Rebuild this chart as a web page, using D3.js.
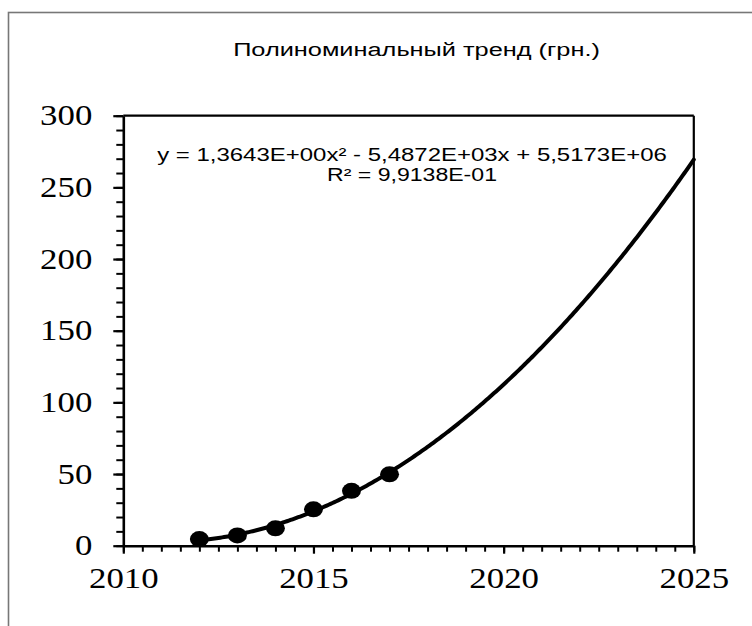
<!DOCTYPE html>
<html>
<head>
<meta charset="utf-8">
<script src="https://cdn.jsdelivr.net/npm/d3@7"></script>
<style>
  html, body { margin: 0; padding: 0; background: #fff; }
  svg { display: block; }
</style>
</head>
<body>
<script>
// ---- data ----
const years = [2012, 2013, 2014, 2015, 2016, 2017];
const values = [4.6, 7.2, 12.1, 25.4, 38.3, 49.8];
const xTickValues = [2010, 2015, 2020, 2025];
const yTickValues = [0, 50, 100, 150, 200, 250, 300];
const titleText = "Полиноминальный тренд (грн.)";
const eqLine1 = "y = 1,3643E+00x² - 5,4872E+03x + 5,5173E+06";
const eqLine2 = "R² = 9,9138E-01";

const W = 752, H = 626;
const SANS = "Liberation Sans, Arial, sans-serif";
const SERIF = "Liberation Serif, Times New Roman, serif";

const svg = d3.select("body").append("svg").attr("width", W).attr("height", H);
svg.append("rect").attr("width", W).attr("height", H).attr("fill", "#fff");

// outer chart frame (extends past the window at right/bottom)
svg.append("rect")
  .attr("x", 8.5).attr("y", 12.5).attr("width", 800).attr("height", 700)
  .attr("fill", "none").attr("stroke", "#777").attr("stroke-width", 1.6);

const x = d3.scaleLinear().domain([2010, 2025]).range([123.3, 693.8]);
const y = d3.scaleLinear().domain([0, 300]).range([545.7, 115.7]);

// quadratic least-squares trend from the data
function quadFit(xs, ys) {
  const n = xs.length, m = d3.mean(xs);
  const u = xs.map(v => v - m);
  const s2 = d3.sum(u, v => v * v), s3 = d3.sum(u, v => v ** 3), s4 = d3.sum(u, v => v ** 4);
  const sy = d3.sum(ys), sxy = d3.sum(u, (v, i) => v * ys[i]), sx2y = d3.sum(u, (v, i) => v * v * ys[i]);
  const A = [[n, 0, s2, sy], [0, s2, s3, sxy], [s2, s3, s4, sx2y]];
  for (let i = 0; i < 3; i++) {
    for (let k = i + 1; k < 3; k++) {
      const f = A[k][i] / A[i][i];
      for (let j = i; j < 4; j++) A[k][j] -= f * A[i][j];
    }
  }
  const c = A[2][3] / A[2][2];
  const b = (A[1][3] - A[1][2] * c) / A[1][1];
  const a = (A[0][3] - A[0][2] * c - A[0][1] * b) / A[0][0];
  return t => a + b * (t - m) + c * (t - m) * (t - m);
}
const trend = quadFit(years, values);

// centred text stretched horizontally to a given width
function stretchedText(parent, txt, cx, cy, size, family, width) {
  const t = parent.append("text")
    .attr("x", 0).attr("y", 0).attr("text-anchor", "middle")
    .style("font-family", family).style("font-size", size + "px")
    .attr("fill", "#000").text(txt);
  const natural = t.node().getComputedTextLength() || width;
  t.attr("transform", `translate(${cx},${cy}) scale(${width / natural},1)`);
  return t;
}

// title
stretchedText(svg, titleText, 416.5, 56.3, 19, SANS, 367);

// plot frame (top & right)
svg.append("line").attr("x1", x(2010)).attr("x2", x(2025)).attr("y1", y(300)).attr("y2", y(300))
  .attr("stroke", "#000").attr("stroke-width", 2.2);
svg.append("line").attr("x1", x(2025)).attr("x2", x(2025)).attr("y1", y(300)).attr("y2", y(0))
  .attr("stroke", "#000").attr("stroke-width", 2.2);

// minor ticks
const yMinor = svg.append("g").attr("transform", `translate(${x(2010)},0)`)
  .call(d3.axisLeft(y).tickValues(d3.range(0, 301, 10)).tickSize(7).tickSizeOuter(0).tickFormat(""));
const xMinor = svg.append("g").attr("transform", `translate(0,${y(0)})`)
  .call(d3.axisBottom(x).tickValues(d3.range(2010, 2025.01, 0.5)).tickSize(6).tickSizeOuter(0).tickFormat(""));
[yMinor, xMinor].forEach(g => {
  g.select(".domain").remove();
  g.selectAll("line").attr("stroke", "#000").attr("stroke-width", 2);
});

// major axes
const yAxis = svg.append("g").attr("transform", `translate(${x(2010)},0)`)
  .call(d3.axisLeft(y).tickValues(yTickValues).tickSize(10).tickSizeOuter(0).tickPadding(21));
const xAxis = svg.append("g").attr("transform", `translate(0,${y(0)})`)
  .call(d3.axisBottom(x).tickValues(xTickValues).tickSize(8).tickSizeOuter(0).tickPadding(14).tickFormat(d3.format("d")));
[yAxis, xAxis].forEach(g => {
  g.attr("font-family", null).attr("font-size", null);
  g.select(".domain").attr("stroke", "#000").attr("stroke-width", 2.6);
  g.selectAll(".tick line").attr("stroke", "#000").attr("stroke-width", 2.2);
  g.selectAll(".tick text")
    .attr("fill", "#000")
    .style("font-family", SERIF).style("font-size", "29px")
    .each(function () {
      const el = d3.select(this);
      const tx = +el.attr("x") || 0;
      el.attr("x", 0).attr("transform", `translate(${tx},0) scale(1.2,1)`);
    });
});

// trend curve
const curveX = d3.range(2012, 2025.0001, 0.05);
svg.append("path")
  .datum(curveX)
  .attr("fill", "none").attr("stroke", "#000").attr("stroke-width", 4)
  .attr("stroke-linejoin", "round").attr("stroke-linecap", "round")
  .attr("d", d3.line().x(d => x(d)).y(d => y(trend(d))));

// data markers
svg.append("g").selectAll("ellipse")
  .data(years.map((yr, i) => ({ yr, v: values[i] })))
  .join("ellipse")
  .attr("cx", d => x(d.yr)).attr("cy", d => y(d.v))
  .attr("rx", 9.5).attr("ry", 8)
  .attr("fill", "#000");

// equation label
const eq = svg.append("g");
stretchedText(eq, eqLine1, 412, 160.5, 18, SANS, 510);
stretchedText(eq, eqLine2, 412, 180.5, 18, SANS, 170);
</script>
</body>
</html>
